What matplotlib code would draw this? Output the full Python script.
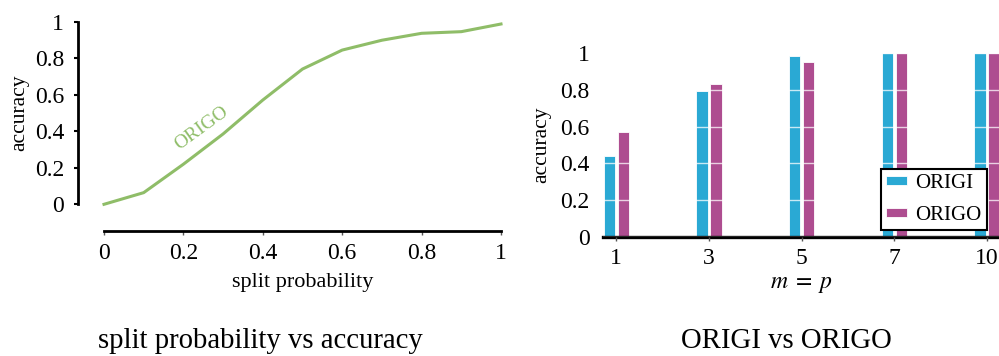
import numpy as np
import matplotlib
matplotlib.use("Agg")
import matplotlib.pyplot as plt

plt.rcParams['font.family'] = ['Liberation Serif', 'DejaVu Serif']
plt.rcParams['mathtext.fontset'] = 'stix'

# split probability sweep
split_prob = [0.0, 0.1, 0.2, 0.3, 0.4, 0.5, 0.6, 0.7, 0.8, 0.9, 1.0]
origo_acc = [0.0, 0.064, 0.22, 0.386, 0.572, 0.742, 0.846, 0.90, 0.938, 0.947, 0.989]

# ORIGI vs ORIGO per m = p
mp_labels = ['1', '3', '5', '7', '10']
origi_bar = [0.44, 0.796, 0.985, 1.0, 1.0]
origo_bar = [0.571, 0.833, 0.953, 1.0, 1.0]

green = '#8fbd68'
blue = '#2aa9d4'
magenta = '#ae4d90'

fig = plt.figure(figsize=(9.99, 3.56), dpi=100)

# left panel: line plot with detached spines
ax1 = fig.add_axes([0.1041, 0.4261, 0.3974, 0.5121])
ax1.plot(split_prob, origo_acc, color=green, lw=2.2, clip_on=False)
ax1.text(0.245, 0.42, 'ORIGO', color=green, fontsize=14, rotation=36,
         ha='center', va='center')
ax1.set_xlim(0, 1)
ax1.set_ylim(0, 1)
ax1.set_xticks([0, 0.2, 0.4, 0.6, 0.8, 1])
ax1.set_xticklabels(['0', '0.2', '0.4', '0.6', '0.8', '1'])
ax1.set_yticks([0, 0.2, 0.4, 0.6, 0.8, 1])
ax1.set_yticklabels(['0', '0.2', '0.4', '0.6', '0.8', '1'])
for side in ['top', 'right']:
    ax1.spines[side].set_visible(False)
ax1.spines['left'].set_position(('outward', 18.7))
ax1.spines['bottom'].set_position(('outward', 19.2))
ax1.spines['left'].set_linewidth(2)
ax1.spines['bottom'].set_linewidth(2)
ax1.tick_params(axis='y', length=3, width=1.5, pad=7, labelsize=17)
ax1.tick_params(axis='x', length=3, width=1, color='#555555', pad=6, labelsize=17)
ax1.set_xlabel('split probability', fontsize=16, labelpad=6)
ax1.set_ylabel('accuracy', fontsize=15.5, labelpad=4)

# right panel: grouped bars
ax2 = fig.add_axes([0.6039, 0.3351, 0.3971, 0.5152])
pos = np.arange(len(mp_labels))
off = 0.0754
w = 0.122
ax2.bar(pos - off, origi_bar, w, color=blue, edgecolor='white', lw=0.6, label='ORIGI')
ax2.bar(pos + off, origo_bar, w, color=magenta, edgecolor='white', lw=0.6, label='ORIGO')
ax2.set_axisbelow(False)
ax2.yaxis.grid(True, color='white', lw=1, alpha=0.75)
ax2.set_xlim(-0.14, 4.14)
ax2.set_ylim(0, 1)
ax2.set_xticks(pos)
ax2.set_xticklabels(mp_labels)
ax2.set_yticks([0, 0.2, 0.4, 0.6, 0.8, 1])
ax2.set_yticklabels(['0', '0.2', '0.4', '0.6', '0.8', '1'])
for side in ['top', 'right', 'left']:
    ax2.spines[side].set_visible(False)
ax2.spines['bottom'].set_linewidth(2.4)
ax2.tick_params(axis='y', length=0, pad=10, labelsize=17)
ax2.tick_params(axis='x', length=3, width=1, color='#555555', pad=5, labelsize=17)
ax2.set_xlabel(r'$m\;=\;p$', fontsize=17, labelpad=4)
ax2.set_ylabel('accuracy', fontsize=15.5, labelpad=6)
leg = ax2.legend(loc='lower right', bbox_to_anchor=(0.967, 0.037), fontsize=15,
                 fancybox=False, framealpha=1, edgecolor='black',
                 handlelength=1.0, handleheight=0.3, handletextpad=0.4,
                 borderpad=0.25, labelspacing=0.6, borderaxespad=0)
leg.get_frame().set_linewidth(1.5)

# captions under each panel
fig.text(0.2608, 0.022, 'split probability vs accuracy', fontsize=20.7,
         ha='center', va='baseline')
fig.text(0.7868, 0.022, 'ORIGI vs ORIGO', fontsize=20.7, ha='center', va='baseline')

fig.savefig('out.png', dpi=100)
